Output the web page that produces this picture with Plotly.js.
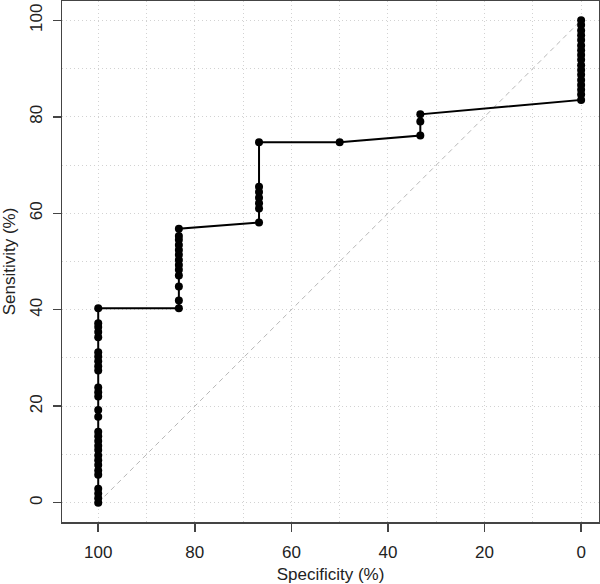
<!DOCTYPE html>
<html>
<head>
<meta charset="utf-8">
<script src="https://cdn.plot.ly/plotly-3.0.1.min.js"></script>
<style>
  body { margin: 0; background: #fff; }
  #rocPlot { width: 600px; height: 584px; }
</style>
</head>
<body>
<div id="rocPlot"></div>
<script>
// ROC curve points (specificity %, sensitivity %)
let specificity = [
	100, 100, 100, 100, 100, 100, 100, 100, 100, 100, 100, 100, 100, 100, 100,
	100, 100, 100, 100, 100, 100, 100, 100, 100, 100, 100, 100, 100, 100,
	83.3, 83.3, 83.3, 83.3, 83.3, 83.3, 83.3, 83.3, 83.3, 83.3, 83.3, 83.3, 83.3,
	66.7, 66.7, 66.7, 66.7, 66.7, 66.7, 66.7,
	50,
	33.3, 33.3, 33.3,
	0, 0, 0, 0, 0, 0, 0, 0, 0, 0, 0, 0, 0, 0, 0, 0, 0
];
let sensitivity = [
	0, 0.9, 1.9, 2.9, 5.8, 6.7, 7.8, 8.8, 9.8, 10.9, 11.8, 12.8, 13.8, 14.7, 17.8,
	19.2, 22.0, 22.9, 23.9, 27.4, 28.3, 29.3, 30.3, 31.2, 34.3, 35.4, 36.4, 37.2, 40.3,
	40.3, 41.9, 44.8, 47.1, 48.3, 49.3, 50.3, 51.4, 52.4, 53.4, 54.5, 55.3, 56.8,
	58.1, 61.0, 62.1, 63.2, 64.4, 65.5, 74.7,
	74.7,
	76.1, 79.0, 80.5,
	83.5, 84.6, 85.6, 86.6, 87.6, 88.7, 89.7, 90.7, 91.8, 92.8, 93.8, 94.8, 95.9, 96.9, 97.9, 99.0, 100
];

// chance diagonal
let diagX = [100, 0];
let diagY = [0, 100];

let xTicks = [100, 80, 60, 40, 20, 0];
let yTicks = [0, 20, 40, 60, 80, 100];

let fontFam = 'Liberation Sans, Arial, sans-serif';
let gridCol = '#d2d2d2';
let gridDash = '1px,3px';

let diag = {
	x: diagX,
	y: diagY,
	mode: 'lines',
	type: 'scatter',
	line: { color: '#b8b8b8', width: 1, dash: '5px,4px' },
	hoverinfo: 'skip'
};

let roc = {
	x: specificity,
	y: sensitivity,
	mode: 'lines+markers',
	type: 'scatter',
	line: { color: '#000', width: 2 },
	marker: { color: '#000', size: 8 }
};

let layout = {
	width: 600,
	height: 584,
	margin: { l: 62, r: 1, t: 1, b: 62 },
	paper_bgcolor: '#fff',
	plot_bgcolor: '#fff',
	showlegend: false,
	font: { family: fontFam, size: 17, color: '#222' },
	xaxis: {
		range: [107.5, -3.7],
		tickvals: xTicks,
		ticks: 'outside',
		ticklen: 8,
		tickwidth: 1.5,
		tickcolor: '#444',
		ticklabelstandoff: 6,
		showline: true,
		linecolor: '#444',
		linewidth: 1.5,
		mirror: true,
		zeroline: false,
		showgrid: true,
		gridcolor: gridCol,
		griddash: gridDash,
		minor: { dtick: 10, tick0: 0, ticks: '', showgrid: true, gridcolor: gridCol, griddash: gridDash },
		title: { text: 'Specificity (%)', font: { size: 17 }, standoff: 10 }
	},
	yaxis: {
		range: [-4, 104],
		tickvals: yTicks,
		tickangle: -90,
		ticks: 'outside',
		ticklen: 8,
		tickwidth: 1.5,
		tickcolor: '#444',
		ticklabelstandoff: 4,
		showline: true,
		linecolor: '#444',
		linewidth: 1.5,
		mirror: true,
		zeroline: false,
		showgrid: true,
		gridcolor: gridCol,
		griddash: gridDash,
		minor: { dtick: 10, tick0: 0, ticks: '', showgrid: true, gridcolor: gridCol, griddash: gridDash },
		title: { text: 'Sensitivity (%)', font: { size: 17 }, standoff: 8 }
	}
};

Plotly.newPlot('rocPlot', [diag, roc], layout, { displayModeBar: false, staticPlot: true });
</script>
</body>
</html>
